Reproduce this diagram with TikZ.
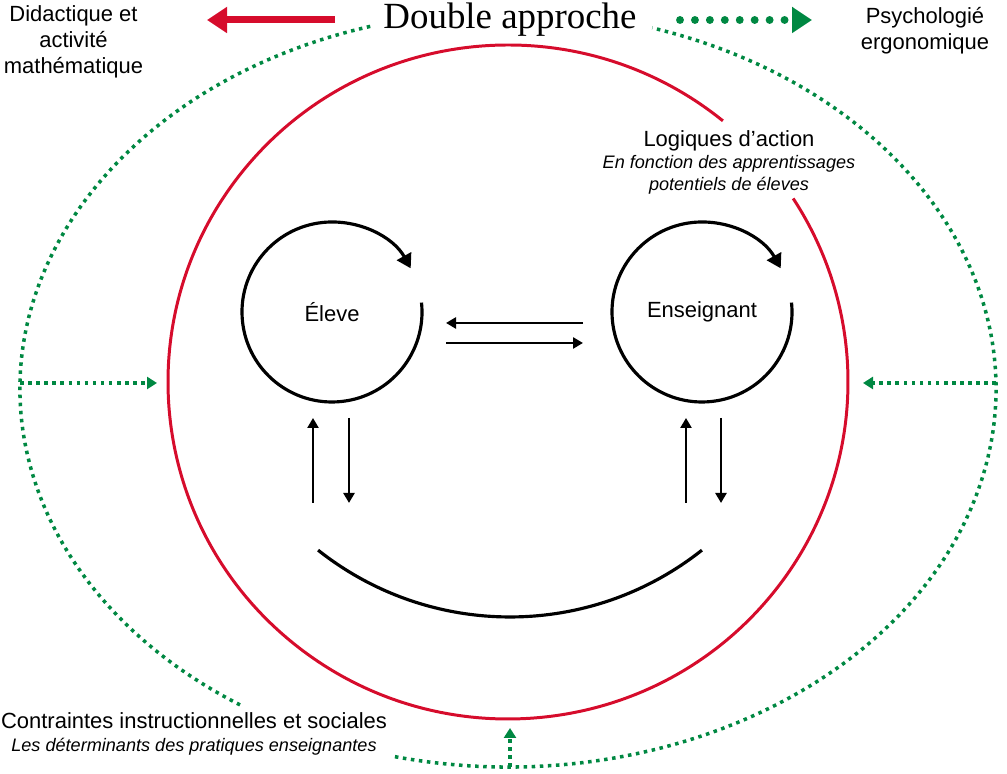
\documentclass[tikz,border=0pt]{standalone}
\usepackage{fontspec}
\setmainfont{Liberation Sans}
\newfontfamily\titrefont{Liberation Serif}
\usetikzlibrary{arrows.meta}

\definecolor{rouge}{RGB}{214,12,44}
\definecolor{vert}{RGB}{0,136,66}

\tikzset{
  texte/.style={font=\fontsize{12.5}{14.8}\selectfont, align=center, inner sep=0pt},
  soustexte/.style={font=\fontsize{10.3}{12.6}\selectfont\itshape, align=center, inner sep=0pt},
  pointille/.style={vert, line width=2pt, dash pattern=on 2pt off 2.6pt},
  pointe/.style={-{Triangle[length=2mm,width=2.4mm]}},
  boucle/.style={line width=1.8pt, -{Triangle[length=2.8mm,width=3.2mm]}},
  fleche/.style={line width=1.6pt, -{Triangle[length=2mm,width=2.2mm]}}
}

\begin{document}
\begin{tikzpicture}
  \useasboundingbox (0,0) rectangle (20.14,15.48);
  % titre et orientations
  \node[font=\titrefont\fontsize{21}{24}\selectfont, anchor=base, inner sep=0pt] (titre) at (10.2,14.9) {Double approche};
  \node[texte] (didac) at (1.47,14.64) {Didactique et\\activité\\mathématique};
  \node[texte] (psycho) at (18.5,14.86) {Psychologié\\ergonomique};
  \coordinate (rg1) at (6.7,15.08);  \coordinate (rg2) at (4.14,15.08);
  \coordinate (vt1) at (13.6,15.08); \coordinate (vt2) at (16.24,15.08);
  \draw[rouge, line width=4pt, -{Triangle[length=4mm,width=5mm]}] (rg1) -- (rg2);
  \draw[vert, line width=4.5pt, line cap=round, dash pattern=on 0pt off 8.5pt,
        -{Triangle[length=4mm,width=5mm]}] (vt1) -- (vt2);

  % ellipse verte (contexte)
  \coordinate (ctr) at (10.16,7.70);
  \draw[pointille] (ctr) ++(256.6:9.76 and 7.56) arc[start angle=256.6, end angle=432.8, x radius=9.76, y radius=7.56];
  \draw[pointille] (ctr) ++(106.4:9.76 and 7.56) arc[start angle=106.4, end angle=236.7, x radius=9.76, y radius=7.56];
  \coordinate (vg1) at (0.40,7.82);  \coordinate (vg2) at (3.14,7.82);
  \coordinate (vd1) at (19.92,7.82); \coordinate (vd2) at (17.26,7.82);
  \coordinate (vb1) at (10.2,0.14);  \coordinate (vb2) at (10.2,0.92);
  \draw[pointille, pointe] (vg1) -- (vg2);
  \draw[pointille, pointe] (vd1) -- (vd2);
  \draw[pointille, pointe] (vb1) -- (vb2);

  % cercle rouge (logiques d'action)
  \draw[rouge, line width=1.7pt] (10.16,7.84) ++(50.8:6.8 and 6.74) arc[start angle=50.8, end angle=393, x radius=6.8, y radius=6.74];
  \node[texte] (logiques) at (14.58,12.66) {Logiques d’action};
  \node[soustexte] (fonction) at (14.58,11.99) {En fonction des apprentissages\\potentiels de éleves};

  % eleve / enseignant
  \node[texte] (eleve) at (6.64,9.24) {Éleve};
  \node[texte] (ens) at (14.04,9.24) {Enseignant};
  \draw[boucle] (eleve.center) ++(6:1.8) arc[start angle=6, end angle=-331, radius=1.8];
  \draw[boucle] (ens.center) ++(6:1.8) arc[start angle=6, end angle=-331, radius=1.8];
  \coordinate (h1) at (11.66,9.02); \coordinate (h2) at (8.92,9.02);
  \coordinate (h3) at (8.92,8.62);  \coordinate (h4) at (11.66,8.62);
  \draw[fleche] (h1) -- (h2);
  \draw[fleche] (h3) -- (h4);
  \foreach \x/\y in {6.26/6.98, 13.72/14.42}{
    \draw[fleche] (\x,5.42) -- (\x,7.12);
    \draw[fleche] (\y,7.12) -- (\y,5.42);
  }
  \draw[line width=1.8pt] (10.2,9.32) ++(231.6:6.18) arc[start angle=231.6, end angle=308.4, radius=6.18];

  % contraintes
  \node[texte] (contraintes) at (3.88,1.06) {Contraintes instructionnelles et sociales};
  \node[soustexte] (determinants) at (3.88,0.54) {Les déterminants des pratiques enseignantes};
\end{tikzpicture}
\end{document}
